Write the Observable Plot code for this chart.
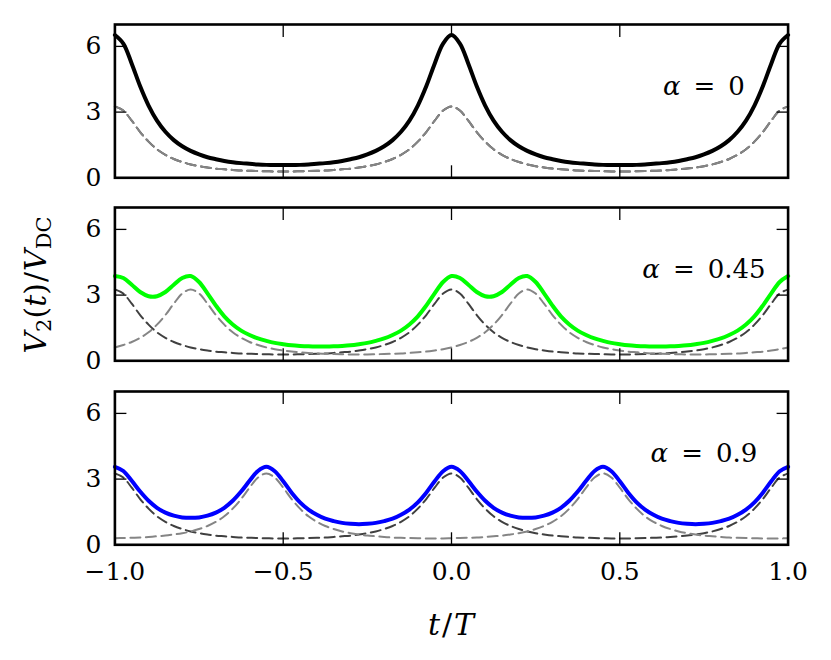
<!DOCTYPE html>
<html>
<head>
<meta charset="utf-8">
<script src="https://cdn.jsdelivr.net/npm/d3@7"></script>
<script src="https://cdn.jsdelivr.net/npm/@observablehq/plot@0.6"></script>
<style>
  html, body { margin: 0; padding: 0; background: #fff; }
  #wrap { position: relative; width: 831px; height: 660px; background: #fff; font-family: 'DejaVu Serif', serif; }
  .panel { position: absolute; left: 0; }
  .panel svg { overflow: visible; }
  #ylab { position: absolute; left: 37px; top: 285px; transform: translate(-50%, -50%) rotate(-90deg); font-size: 30px; white-space: nowrap; }
  #xlab { position: absolute; left: 451px; top: 624px; transform: translate(-50%, -50%); font-size: 30px; white-space: nowrap; }
  sub { font-size: 70%; vertical-align: -0.25em; font-style: normal; }
</style>
</head>
<body>
<div id="wrap">
  <div id="p0" class="panel"></div>
  <div id="p1" class="panel"></div>
  <div id="p2" class="panel"></div>
  <div id="ylab"><i>V</i><sub>2</sub>(<i>t</i>)<span style="margin:0 1px">/</span><i>V</i><sub>DC</sub></div>
  <div id="xlab"><i>t</i><span style="margin:0 2px">/</span><i>T</i></div>
</div>
<script>
// sampling instants t/T
const t = [-1, -0.975, -0.95, -0.925, -0.9, -0.875, -0.85, -0.825, -0.8, -0.775,
  -0.75, -0.725, -0.7, -0.675, -0.65, -0.625, -0.6, -0.575, -0.55, -0.525,
  -0.5, -0.475, -0.45, -0.425, -0.4, -0.375, -0.35, -0.325, -0.3, -0.275,
  -0.25, -0.225, -0.2, -0.175, -0.15, -0.125, -0.1, -0.075, -0.05, -0.025,
  0, 0.025, 0.05, 0.075, 0.1, 0.125, 0.15, 0.175, 0.2, 0.225,
  0.25, 0.275, 0.3, 0.325, 0.35, 0.375, 0.4, 0.425, 0.45, 0.475,
  0.5, 0.525, 0.55, 0.575, 0.6, 0.625, 0.65, 0.675, 0.7, 0.725,
  0.75, 0.775, 0.8, 0.825, 0.85, 0.875, 0.9, 0.925, 0.95, 0.975, 1];

// dashed pulse train centred at t = 0, ±1 (dark dashed)
const pulse0 = [3.26, 3.07, 2.61, 2.09, 1.65, 1.30, 1.05, 0.86, 0.72, 0.61, 0.53, 0.47, 0.42, 0.39, 0.36, 0.33, 0.32, 0.31, 0.30, 0.29, 0.29,
  0.29, 0.30, 0.31, 0.32, 0.33, 0.36, 0.39, 0.42, 0.47, 0.53, 0.61, 0.72, 0.86, 1.05, 1.30, 1.65, 2.09, 2.61, 3.07, 3.26,
  3.07, 2.61, 2.09, 1.65, 1.30, 1.05, 0.86, 0.72, 0.61, 0.53, 0.47, 0.42, 0.39, 0.36, 0.33, 0.32, 0.31, 0.30, 0.29, 0.29,
  0.29, 0.30, 0.31, 0.32, 0.33, 0.36, 0.39, 0.42, 0.47, 0.53, 0.61, 0.72, 0.86, 1.05, 1.30, 1.65, 2.09, 2.61, 3.07, 3.26];

// alpha = 0 : second pulse coincides with the first
const light0 = pulse0;
const solid0 = [6.52, 6.13, 5.21, 4.18, 3.30, 2.61, 2.10, 1.72, 1.44, 1.23, 1.07, 0.94, 0.85, 0.77, 0.71, 0.67, 0.64, 0.61, 0.59, 0.58, 0.58,
  0.58, 0.59, 0.61, 0.64, 0.67, 0.71, 0.77, 0.85, 0.94, 1.07, 1.23, 1.44, 1.72, 2.10, 2.61, 3.30, 4.18, 5.21, 6.13, 6.52,
  6.13, 5.21, 4.18, 3.30, 2.61, 2.10, 1.72, 1.44, 1.23, 1.07, 0.94, 0.85, 0.77, 0.71, 0.67, 0.64, 0.61, 0.59, 0.58, 0.58,
  0.58, 0.59, 0.61, 0.64, 0.67, 0.71, 0.77, 0.85, 0.94, 1.07, 1.23, 1.44, 1.72, 2.10, 2.61, 3.30, 4.18, 5.21, 6.13, 6.52];

// alpha = 0.45
const light45 = [0.61, 0.72, 0.86, 1.05, 1.30, 1.65, 2.09, 2.61, 3.07,
  3.26, 3.07, 2.61, 2.09, 1.65, 1.30, 1.05, 0.86, 0.72, 0.61, 0.53, 0.47, 0.42, 0.39, 0.36, 0.33, 0.32, 0.31, 0.30, 0.29, 0.29,
  0.29, 0.30, 0.31, 0.32, 0.33, 0.36, 0.39, 0.42, 0.47, 0.53, 0.61, 0.72, 0.86, 1.05, 1.30, 1.65, 2.09, 2.61, 3.07, 3.26,
  3.07, 2.61, 2.09, 1.65, 1.30, 1.05, 0.86, 0.72, 0.61, 0.53, 0.47, 0.42, 0.39, 0.36, 0.33, 0.32, 0.31, 0.30, 0.29, 0.29,
  0.29, 0.30, 0.31, 0.32, 0.33, 0.36, 0.39, 0.42, 0.47, 0.53, 0.61];
const solid45 = [3.87, 3.78, 3.47, 3.14, 2.95, 2.95, 3.14, 3.47, 3.78, 3.87, 3.60, 3.08, 2.52, 2.03, 1.66, 1.38, 1.18, 1.02, 0.91, 0.82,
  0.76, 0.71, 0.68, 0.66, 0.65, 0.65, 0.66, 0.68, 0.71, 0.76, 0.82, 0.91, 1.02, 1.18, 1.38, 1.66, 2.03, 2.52, 3.08, 3.60, 3.87,
  3.78, 3.47, 3.14, 2.95, 2.95, 3.14, 3.47, 3.78, 3.87, 3.60, 3.08, 2.52, 2.03, 1.66, 1.38, 1.18, 1.02, 0.91, 0.82,
  0.76, 0.71, 0.68, 0.66, 0.65, 0.65, 0.66, 0.68, 0.71, 0.76, 0.82, 0.91, 1.02, 1.18, 1.38, 1.66, 2.03, 2.52, 3.08, 3.60, 3.87];

// alpha = 0.9
const light90 = [0.30, 0.31, 0.32, 0.33, 0.36, 0.39, 0.42, 0.47, 0.53, 0.61, 0.72, 0.86, 1.05, 1.30, 1.65, 2.09, 2.61, 3.07,
  3.26,
  3.07, 2.61, 2.09, 1.65, 1.30, 1.05, 0.86, 0.72, 0.61, 0.53, 0.47, 0.42, 0.39, 0.36, 0.33, 0.32, 0.31, 0.30, 0.29, 0.29,
  0.29, 0.30, 0.31, 0.32, 0.33, 0.36, 0.39, 0.42, 0.47, 0.53, 0.61, 0.72, 0.86, 1.05, 1.30, 1.65, 2.09, 2.61, 3.07, 3.26,
  3.07, 2.61, 2.09, 1.65, 1.30, 1.05, 0.86, 0.72, 0.61, 0.53, 0.47, 0.42, 0.39, 0.36, 0.33, 0.32, 0.31, 0.30, 0.29, 0.29,
  0.29, 0.30];
const solid90 = [3.56, 3.37, 2.92, 2.43, 2.01, 1.69, 1.47, 1.33, 1.25, 1.23, 1.25, 1.33, 1.47, 1.69, 2.01, 2.43, 2.92, 3.37, 3.56,
  3.36, 2.90, 2.38, 1.94, 1.61, 1.37, 1.19, 1.08, 1.00, 0.96, 0.94, 0.96, 1.00, 1.08, 1.19, 1.37, 1.61, 1.94, 2.38, 2.90, 3.36, 3.56,
  3.37, 2.92, 2.43, 2.01, 1.69, 1.47, 1.33, 1.25, 1.23, 1.25, 1.33, 1.47, 1.69, 2.01, 2.43, 2.92, 3.37, 3.56,
  3.36, 2.90, 2.38, 1.94, 1.61, 1.37, 1.19, 1.08, 1.00, 0.96, 0.94, 0.96, 1.00, 1.08, 1.19, 1.37, 1.61, 1.94, 2.38, 2.90, 3.36, 3.56];

const xTicks = [-1, -0.5, 0, 0.5, 1];
const yTicks = [0, 3, 6];
const alphaLabels = ["α\u2002=\u20020", "α\u2002=\u20020.45", "α\u2002=\u20020.9"];
const labelX = [0.75, 0.75, 0.75];
const labelY = [4.15, 4.15, 4.15];
const solidColors = ["#000000", "#00ff00", "#0000ff"];

const panels = [
  {id: "p0", top: 24, light: light0, solid: solid0},
  {id: "p1", top: 207.3, light: light45, solid: solid45},
  {id: "p2", top: 390.7, light: light90, solid: solid90}
];

const FONT = "'DejaVu Serif', serif";
const FS = 25;   // tick labels
const FA = 26;   // alpha annotations
const PH = 153.3; // panel frame height
const blank = () => "";

panels.forEach((p, k) => {
  const showX = k === panels.length - 1;
  const data = t.map((x, i) => ({t: x, dark: pulse0[i], light: p.light[i], solid: p.solid[i]}));
  const bottom = showX ? 60 : 0;
  const chart = Plot.plot({
    width: 831,
    height: PH + bottom,
    marginLeft: 114.4,
    marginRight: 43.4,
    marginTop: 0,
    marginBottom: bottom,
    x: {domain: [-1, 1]},
    y: {domain: [0, 7]},
    style: {fontFamily: FONT, fontSize: FS + "px", background: "transparent", overflow: "visible"},
    marks: [
      Plot.lineY(data, {x: "t", y: "dark", stroke: "#404040", strokeWidth: 2, strokeDasharray: "10,5.5", curve: "catmull-rom"}),
      Plot.lineY(data, {x: "t", y: "light", stroke: "#858585", strokeWidth: 2, strokeDasharray: "10,5.5", curve: "catmull-rom"}),
      Plot.lineY(data, {x: "t", y: "solid", stroke: solidColors[k], strokeWidth: 4, curve: "catmull-rom"}),
      Plot.text([0], {x: () => labelX[k], y: () => labelY[k], text: () => alphaLabels[k], fontSize: FA, textAnchor: "middle", fill: "black"}),
      Plot.axisY(yTicks, {anchor: "left", tickSize: -12, tickPadding: 25.5, tickFormat: d => String(d), label: null, strokeWidth: 1.3, fontSize: FS, fill: "black"}),
      Plot.axisY(yTicks, {anchor: "right", tickSize: -12, tickFormat: blank, label: null, strokeWidth: 1.3}),
      Plot.axisX(xTicks, {anchor: "top", tickSize: -12, tickFormat: blank, label: null, strokeWidth: 1.3}),
      Plot.axisX(xTicks, {anchor: "bottom", tickSize: -12, tickPadding: 29.5, tickFormat: showX ? d3.format(".1f") : blank, label: null, strokeWidth: 1.3, fontSize: FS, fill: "black"}),
      Plot.frame({stroke: "black", strokeWidth: 2.6})
    ]
  });
  chart.querySelectorAll("text").forEach(el => el.setAttribute("font-family", FONT));
  // italic alpha, as in the math-text label
  chart.querySelectorAll('g[aria-label="text"] text').forEach(el => {
    const s = el.textContent;
    el.textContent = "";
    const ns = "http://www.w3.org/2000/svg";
    const a = document.createElementNS(ns, "tspan");
    a.setAttribute("font-style", "italic");
    a.textContent = s.slice(0, 1);
    const b = document.createElementNS(ns, "tspan");
    b.textContent = s.slice(1);
    el.append(a, b);
  });
  const host = document.getElementById(p.id);
  host.style.top = p.top + "px";
  host.appendChild(chart);
});
</script>
</body>
</html>
